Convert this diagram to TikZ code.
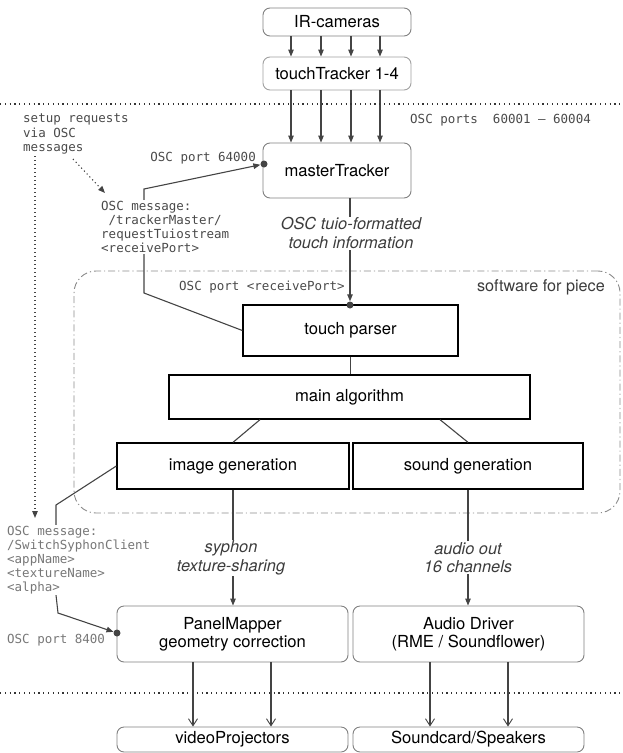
\documentclass[tikz,border=0pt]{standalone}
\usepackage{fontspec}
\setmainfont{TeX Gyre Heros}
\setmonofont{DejaVu Sans Mono}
\usetikzlibrary{arrows.meta}

\definecolor{edge}{HTML}{444444}
\definecolor{roundgray}{HTML}{808080}
\definecolor{softgray}{HTML}{A0A0A0}
\definecolor{monodark}{HTML}{4A4A4A}
\definecolor{monolight}{HTML}{777777}
\definecolor{framegray}{HTML}{8A8A8A}
\definecolor{labelgray}{HTML}{3C3C3C}

\tikzset{
  rbox/.style={draw=roundgray, line width=0.9pt, rounded corners=7pt, inner sep=0pt,
               font=\fontsize{16.6}{18.5}\selectfont, align=center},
  sbox/.style={draw=black, line width=1.3pt, inner sep=0pt,
               font=\fontsize{16.6}{18.5}\selectfont, align=center},
  mono/.style={font=\ttfamily\fontsize{12.5}{14.1}\selectfont, inner sep=0pt, align=left},
  ital/.style={font=\itshape\fontsize{16.4}{18.5}\selectfont, text=labelgray, align=center, inner sep=1pt},
  conn/.style={draw=edge, line width=1.1pt},
  arr/.style={conn, -{Triangle[length=7pt,width=5.5pt]}},
  openarr/.style={conn, -{Straight Barb[length=7pt,width=9pt,line width=0.9pt]}},
  dotsep/.style={draw=black!80, line width=1.1pt, dash pattern=on 1.2pt off 3.6pt},
  dotarr/.style={draw=edge, line width=1.1pt, dash pattern=on 1.2pt off 2.8pt,
                 -{Triangle[length=7pt,width=5.5pt]}},
  portdot/.style={circle, fill=edge, inner sep=0pt, minimum size=7pt},
  piecebox/.style={draw=framegray, line width=0.9pt, rounded corners=22pt,
                   dash pattern=on 7pt off 3pt on 1.2pt off 3pt},
}

\begin{document}
\begin{tikzpicture}[x=1pt, y=-1pt]
\useasboundingbox (0,0) rectangle (622,753);

% ---- hardware on top
\node[rbox, minimum width=148pt, minimum height=28pt] (ir) at (337,22) {IR-cameras};
\node[rbox, draw=softgray, minimum width=148pt, minimum height=33pt] (tt) at (337,73.5) {touchTracker 1-4};
\node[rbox, minimum width=148pt, minimum height=55pt] (mt) at (337,170.5) {masterTracker};

\foreach \dx in {-46,-16,14,43} {
  \draw[arr] ([xshift=\dx pt]ir.south) -- ([xshift=\dx pt]tt.north);
  \draw[arr] ([xshift=\dx pt]tt.south) -- ([xshift=\dx pt]mt.north);
}

% ---- separators
\coordinate (sepAL) at (0,104);   \coordinate (sepAR) at (622,104);
\coordinate (sepBL) at (0,693);   \coordinate (sepBR) at (622,693);
\draw[dotsep] (sepAL) -- (sepAR);
\draw[dotsep] (sepBL) -- (sepBR);

\node[mono, text=monodark, anchor=west] (ports) at (410,120) {OSC ports~~60001 – 60004};

% ---- setup requests
\node[mono, text=monodark, anchor=north west] (setup) at (23,114) {setup requests\\via OSC\\messages};
\coordinate (sreqA) at (73,159);
\coordinate (sreqB) at (105,193);
\draw[dotarr] (sreqA) -- (sreqB);
\coordinate (svA) at (35,156);
\coordinate (svB) at (35,518);
\draw[dotarr] (svA) -- (svB);

% ---- software frame
\node[piecebox, minimum width=546pt, minimum height=242pt] (piece) at (347,392) {};
\node[anchor=east, font=\fontsize{16.2}{18.5}\selectfont, text=labelgray, inner sep=0pt] (sfp) at (605,287) {software for piece};
\node[mono, text=monodark, anchor=west] (prp) at (179,287) {OSC port <receivePort>};

\node[sbox, minimum width=215pt, minimum height=51pt] (tp) at (350.5,330.5) {touch parser};
\node[sbox, minimum width=361pt, minimum height=44pt] (ma) at (349.5,397) {main algorithm};
\node[sbox, minimum width=232pt, minimum height=46pt] (ig) at (233,466) {image generation};
\node[sbox, minimum width=230pt, minimum height=46pt] (sg) at (468,466) {sound generation};

% ---- tracker request path
\node[portdot] (dmt) at (264,164) {};
\coordinate (rqA) at (144,293);
\coordinate (rqB) at (144,189);
\draw[arr] (tp.west) -- (rqA) -- (rqB) -- (dmt);
\node[mono, text=monodark, fill=white, anchor=north west, inner sep=1pt] (msgA) at (100,200)
  {OSC message:\\\hspace*{7.5pt}/trackerMaster/\\requestTuiostream\\<receivePort>};
\node[mono, text=monodark, anchor=east] (p64) at (256,158) {OSC port 64000};

% ---- tuio stream
\node[portdot] (dtp) at (350,305) {};
\draw[arr] (dtp |- mt.south) -- (dtp);
\node[ital, fill=white] (tuio) at (351,233) {OSC tuio-formatted\\touch information};

\draw[conn] (tp.south) -- (tp.south |- ma.north);
\draw[conn] ([xshift=-89.5pt]ma.south) -- (ig.north);
\draw[conn] ([xshift=90.5pt]ma.south) -- (sg.north);

% ---- output stage
\node[rbox, minimum width=231pt, minimum height=56pt] (pm) at (232.5,634) {PanelMapper\\geometry correction};
\node[rbox, minimum width=231pt, minimum height=56pt] (ad) at (468.5,634) {Audio Driver\\(RME / Soundflower)};
\node[rbox, minimum width=231pt, minimum height=25pt] (vp) at (232.5,739.5) {videoProjectors};
\node[rbox, minimum width=231pt, minimum height=25pt] (sc) at (468.5,739.5) {Soundcard/Speakers};

\draw[arr] (ig.south) -- (ig.south |- pm.north);
\draw[arr] (sg.south) -- (sg.south |- ad.north);
\node[ital, fill=white] (syph) at (231,558) {syphon\\texture-sharing};
\node[ital, fill=white] (aout) at (468,557.5) {audio out\\16 channels};

% ---- syphon client request path
\node[portdot] (dpm) at (117,633) {};
\coordinate (swA) at (56,505);
\coordinate (swB) at (58,613);
\draw[arr] (ig.west) -- (swA) -- (56,595) -- (swB) -- (dpm);
\node[mono, text=monolight, fill=white, anchor=north west, inner sep=1pt] (msgB) at (6,525)
  {OSC message:\\/SwitchSyphonClient\\<appName>\\<textureName>\\<alpha>};
\node[mono, text=monolight, anchor=west] (p84) at (7,640) {OSC port 8400};

\foreach \dx in {-39.5,38.5} \draw[openarr] ([xshift=\dx pt]pm.south) -- ([xshift=\dx pt]vp.north);
\foreach \dx in {-38.5,39.5} \draw[openarr] ([xshift=\dx pt]ad.south) -- ([xshift=\dx pt]sc.north);
\end{tikzpicture}
\end{document}
